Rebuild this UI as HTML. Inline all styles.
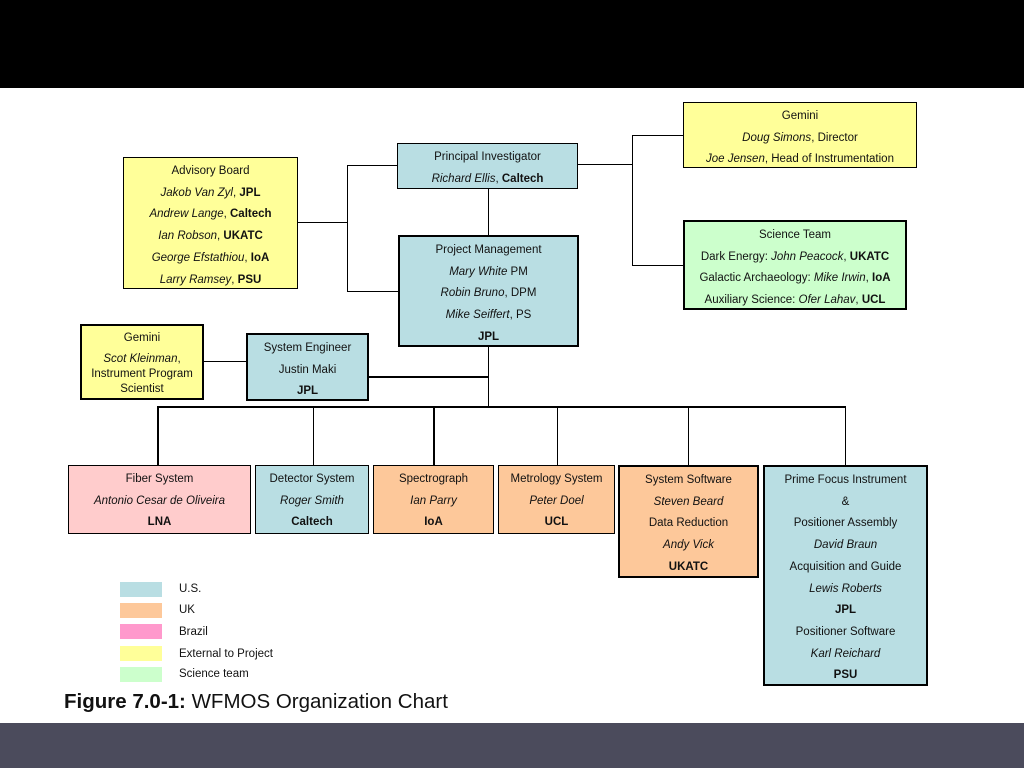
<!DOCTYPE html>
<html><head><style>
body{margin:0;width:1024px;height:768px;background:#fff;position:relative;overflow:hidden;font-family:"Liberation Sans",sans-serif;}
.b{position:absolute;box-sizing:border-box;border:2px solid #000;font-size:11.5px;color:#111;text-align:center;line-height:21.7px;padding-top:3px}
.y{background:#ffff99}.u{background:#b9dee3}.o{background:#fdc89a}.p{background:#ffcccc}.g{background:#ccffcc}
i{font-style:italic}b{font-weight:bold}
.l{position:absolute;background:#000}
.sw{position:absolute;left:120px;width:42px;height:15px}
.lt{position:absolute;left:179px;font-size:11.5px;color:#111}
</style></head><body>
<div style="position:absolute;left:0;top:0;width:1024px;height:88px;background:#000"></div>
<div style="position:absolute;left:0;top:723px;width:1024px;height:45px;background:#4b4b5c"></div>

<!-- lines -->
<div class="l" style="left:577px;top:164px;width:56px;height:1px"></div>
<div class="l" style="left:632px;top:135px;width:1px;height:131px"></div>
<div class="l" style="left:632px;top:135px;width:52px;height:1px"></div>
<div class="l" style="left:632px;top:265px;width:52px;height:1px"></div>
<div class="l" style="left:297px;top:222px;width:51px;height:1px"></div>
<div class="l" style="left:347px;top:165px;width:1px;height:127px"></div>
<div class="l" style="left:347px;top:165px;width:51px;height:1px"></div>
<div class="l" style="left:347px;top:291px;width:53px;height:1px"></div>
<div class="l" style="left:488px;top:188px;width:1px;height:48px"></div>
<div class="l" style="left:488px;top:346px;width:1px;height:62px"></div>
<div class="l" style="left:368px;top:376px;width:121px;height:2px"></div>
<div class="l" style="left:203px;top:361px;width:45px;height:1px"></div>
<div class="l" style="left:158px;top:406px;width:688px;height:2px"></div>
<div class="l" style="left:157px;top:406px;width:2px;height:61px"></div>
<div class="l" style="left:313px;top:406px;width:1px;height:61px"></div>
<div class="l" style="left:433px;top:406px;width:2px;height:61px"></div>
<div class="l" style="left:557px;top:406px;width:1px;height:61px"></div>
<div class="l" style="left:688px;top:406px;width:1px;height:61px"></div>
<div class="l" style="left:845px;top:406px;width:1px;height:61px"></div>

<!-- boxes -->
<div class="b y" style="left:683px;top:102px;width:234px;height:66px;border-width:1px">Gemini<br><i>Doug Simons</i>, Director<br><i>Joe Jensen</i>, Head of Instrumentation</div>
<div class="b u" style="left:397px;top:143px;width:181px;height:46px;border-width:1px">Principal Investigator<br><i>Richard Ellis</i>, <b>Caltech</b></div>
<div class="b y" style="left:123px;top:157px;width:175px;height:132px;border-width:1px">Advisory Board<br><i>Jakob Van Zyl</i>, <b>JPL</b><br><i>Andrew Lange</i>, <b>Caltech</b><br><i>Ian Robson</i>, <b>UKATC</b><br><i>George Efstathiou</i>, <b>IoA</b><br><i>Larry Ramsey</i>, <b>PSU</b></div>
<div class="b u" style="left:398px;top:235px;width:181px;height:112px">Project Management<br><i>Mary White</i> PM<br><i>Robin Bruno</i>, DPM<br><i>Mike Seiffert</i>, PS<br><b>JPL</b></div>
<div class="b g" style="left:683px;top:220px;width:224px;height:90px">Science Team<br>Dark Energy: <i>John Peacock</i>, <b>UKATC</b><br>Galactic Archaeology: <i>Mike Irwin</i>, <b>IoA</b><br>Auxiliary Science: <i>Ofer Lahav</i>, <b>UCL</b></div>
<div class="b y" style="left:80px;top:324px;width:124px;height:76px;line-height:15px;padding-top:5px">Gemini<br><span style="display:block;height:6px"></span><i>Scot Kleinman</i>,<br>Instrument Program<br>Scientist</div>
<div class="b u" style="left:246px;top:333px;width:123px;height:68px">System Engineer<br>Justin Maki<br><b>JPL</b></div>

<div class="b p" style="left:68px;top:465px;width:183px;height:69px;border-width:1px">Fiber System<br><i>Antonio Cesar de Oliveira</i><br><b>LNA</b></div>
<div class="b u" style="left:255px;top:465px;width:114px;height:69px;border-width:1px">Detector System<br><i>Roger Smith</i><br><b>Caltech</b></div>
<div class="b o" style="left:373px;top:465px;width:121px;height:69px;border-width:1px">Spectrograph<br><i>Ian Parry</i><br><b>IoA</b></div>
<div class="b o" style="left:498px;top:465px;width:117px;height:69px;border-width:1px">Metrology System<br><i>Peter Doel</i><br><b>UCL</b></div>
<div class="b o" style="left:618px;top:465px;width:141px;height:113px">System Software<br><i>Steven Beard</i><br>Data Reduction<br><i>Andy Vick</i><br><b>UKATC</b></div>
<div class="b u" style="left:763px;top:465px;width:165px;height:221px">Prime Focus Instrument<br>&amp;<br>Positioner Assembly<br><i>David Braun</i><br>Acquisition and Guide<br><i>Lewis Roberts</i><br><b>JPL</b><br>Positioner Software<br><i>Karl Reichard</i><br><b>PSU</b></div>

<!-- legend -->
<div class="sw" style="top:582px;background:#b9dee3"></div><div class="lt" style="top:583px">U.S.</div>
<div class="sw" style="top:603px;background:#fdc89a"></div><div class="lt" style="top:604px">UK</div>
<div class="sw" style="top:624px;background:#ff99cc"></div><div class="lt" style="top:626px">Brazil</div>
<div class="sw" style="top:646px;background:#ffff99"></div><div class="lt" style="top:648px">External to Project</div>
<div class="sw" style="top:667px;background:#ccffcc"></div><div class="lt" style="top:668px">Science team</div>
<div style="position:absolute;left:64px;top:690px;font-size:20.5px;color:#111"><b>Figure 7.0-1:</b> WFMOS Organization Chart</div>
</body></html>
